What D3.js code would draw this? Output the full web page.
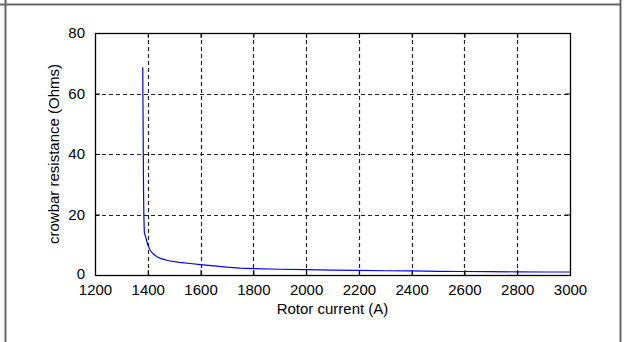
<!DOCTYPE html>
<html lang="en">
<head>
<meta charset="utf-8">
<title>Crowbar resistance</title>
<script src="https://d3js.org/d3.v7.min.js"></script>
<style>
  body { margin: 0; background: #fff; }
  svg text { font-family: "Liberation Sans", Arial, sans-serif; fill: #000; }
</style>
</head>
<body>
<div id="chart"></div>
<script>
// values
var current = [1381, 1381.5, 1382, 1383, 1384, 1385, 1387, 1392, 1400, 1410, 1420, 1435, 1450, 1480,
               1520, 1560, 1600, 1650, 1700, 1750, 1800, 1900, 2000, 2100, 2200, 2300, 2400, 2500,
               2600, 2700, 2800, 2900, 3000];
var resistance = [68.7, 60, 55, 40, 28, 20, 14, 12.5, 10, 8, 7, 6, 5.4, 4.7,
                  4.2, 3.8, 3.4, 3.0, 2.6, 2.3, 2.1, 1.9, 1.75, 1.6, 1.5, 1.4, 1.35, 1.2,
                  1.15, 1.1, 1.05, 1.0, 1.0];
var xTicks = [1200, 1400, 1600, 1800, 2000, 2200, 2400, 2600, 2800, 3000];
var yTicks = [0, 20, 40, 60, 80];

var svgWidth = 625, svgHeight = 342,
    margin = {top: 33, right: 55, bottom: 67, left: 95},
    width = svgWidth - margin.left - margin.right,
    height = svgHeight - margin.top - margin.bottom;

var svg = d3.select("#chart").append("svg")
    .attr("width", svgWidth)
    .attr("height", svgHeight);

// outer frame of the figure
svg.append("line").attr("x1", 0).attr("x2", 621).attr("y1", 4.5).attr("y2", 4.5)
    .attr("stroke", "#666").attr("stroke-width", 2);
svg.append("line").attr("x1", 5.5).attr("x2", 5.5).attr("y1", 0).attr("y2", svgHeight)
    .attr("stroke", "#666").attr("stroke-width", 2);
svg.append("line").attr("x1", 620.5).attr("x2", 620.5).attr("y1", 0).attr("y2", svgHeight)
    .attr("stroke", "#666").attr("stroke-width", 2);

var g = svg.append("g")
    .attr("transform", "translate(" + margin.left + "," + margin.top + ")");

var x = d3.scaleLinear().domain([1200, 3000]).range([0, width]);
var y = d3.scaleLinear().domain([0, 80]).range([height, 0]);

// dashed grid
g.append("g").selectAll("line")
    .data(xTicks.slice(1, -1))
    .enter().append("line")
    .attr("x1", function(d) { return Math.round(x(d)) + 0.5; })
    .attr("x2", function(d) { return Math.round(x(d)) + 0.5; })
    .attr("y1", 0).attr("y2", height)
    .attr("stroke", "#222").attr("stroke-width", 1.2).attr("stroke-dasharray", "4,3");
g.append("g").selectAll("line")
    .data(yTicks.slice(1, -1))
    .enter().append("line")
    .attr("y1", function(d) { return Math.round(y(d)) + 0.5; })
    .attr("y2", function(d) { return Math.round(y(d)) + 0.5; })
    .attr("x1", 0).attr("x2", width)
    .attr("stroke", "#222").attr("stroke-width", 1.2).attr("stroke-dasharray", "4,3");

// axes with inward ticks
g.append("g").attr("transform", "translate(0," + height + ")")
    .call(d3.axisBottom(x).tickValues(xTicks).tickSize(-5).tickPadding(9).tickFormat(d3.format("d")));
g.append("g")
    .call(d3.axisLeft(y).tickValues(yTicks).tickSize(-5).tickPadding(10).tickFormat(d3.format("d")));
g.append("g").call(d3.axisTop(x).tickValues(xTicks).tickSize(-5).tickFormat(""));
g.append("g").attr("transform", "translate(" + width + ",0)")
    .call(d3.axisRight(y).tickValues(yTicks).tickSize(-5).tickFormat(""));

g.selectAll(".domain").attr("stroke", "#000");
g.selectAll(".tick line").attr("stroke", "#000");
g.selectAll(".tick text").style("font-size", "15px");

// the zero label sits a little higher so it clears the 1200 label
g.selectAll(".tick text").filter(function(d) { return d === 0; }).attr("dy", "0.2em");

// box
g.append("rect").attr("x", 0.5).attr("y", 0.5).attr("width", width).attr("height", height)
    .attr("fill", "none").attr("stroke", "#000").attr("stroke-width", 1.3);

// curve
var pts = current.map(function(c, i) { return [c, resistance[i]]; });
g.append("path")
    .datum(pts)
    .attr("fill", "none")
    .attr("stroke", "#0000ff")
    .attr("stroke-width", 1.2)
    .attr("d", d3.line().x(function(d) { return x(d[0]); }).y(function(d) { return y(d[1]); }));

// axis labels
g.append("text")
    .attr("x", width / 2).attr("y", height + 39)
    .attr("text-anchor", "middle")
    .style("font-size", "15px")
    .text("Rotor current (A)");
g.append("text")
    .attr("transform", "translate(-36," + (height / 2) + ") rotate(-90)")
    .attr("text-anchor", "middle")
    .style("font-size", "15px")
    .text("crowbar resistance (Ohms)");
</script>
</body>
</html>
